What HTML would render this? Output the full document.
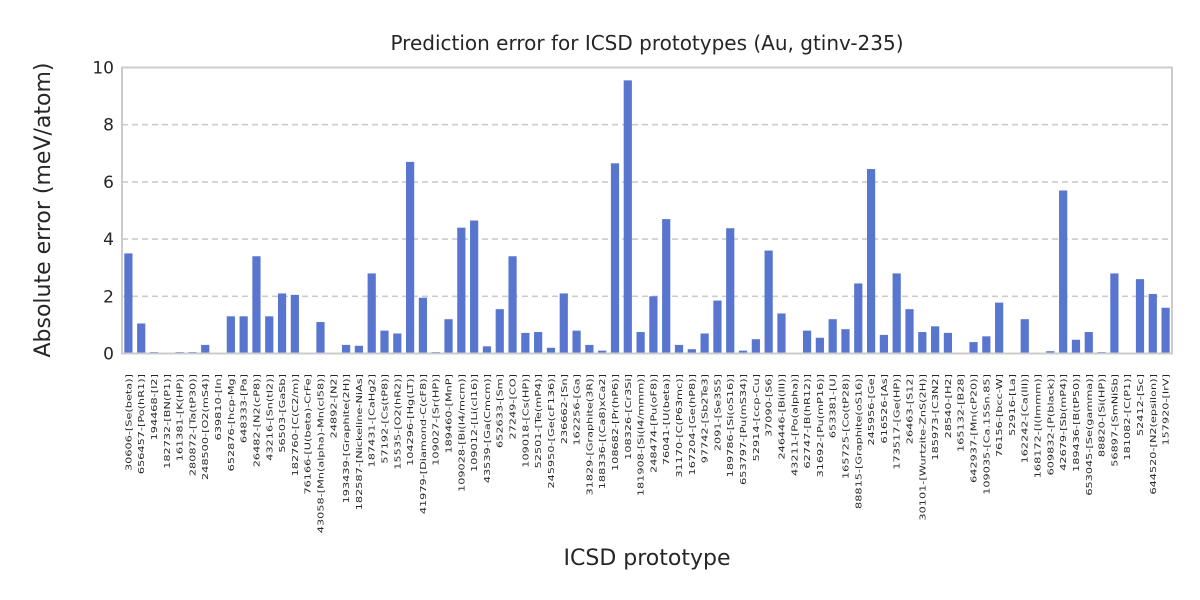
<!DOCTYPE html>
<html><head><meta charset="utf-8"><style>
html,body{margin:0;padding:0;background:#fff;width:1200px;height:600px;overflow:hidden}
svg text{font-family:"DejaVu Sans","Liberation Sans",sans-serif;fill:#262626}
</style></head><body>
<svg id="chart" width="1200" height="600">
<text x="647" y="50" text-anchor="middle" font-size="20">Prediction error for ICSD prototypes (Au, gtinv-235)</text>
<text transform="translate(50,210) rotate(-90)" text-anchor="middle" font-size="22">Absolute error (meV/atom)</text>
<text x="647" y="565" text-anchor="middle" font-size="22">ICSD prototype</text>
<g id="grid"></g><g id="bars"></g><g id="yticks"></g><g id="xticks"></g>
<rect x="122" y="67.5" width="1050" height="286" fill="none" stroke="#cccccc" stroke-width="2"/>
</svg>
<script>
const categories = ["30606-[Se(beta)]","656457-[Po(hR1)]","194468-[I2]","182732-[BN(P1)]","161381-[K(HP)]","280872-[Ta(tP30)]","248500-[O2(mS4)]","639810-[In]","652876-[hcp-Mg]","648333-[Pa]","26482-[N2(cP8)]","43216-[Sn(tI2)]","56503-[GaSb]","182760-[C(C2/m)]","76166-[U(beta)-CrFe]","43058-[Mn(alpha)-Mn(cI58)]","24892-[N2]","193439-[Graphite(2H)]","182587-[Nickeline-NiAs]","187431-[CaHg2]","57192-[Cs(tP8)]","15535-[O2(hR2)]","104296-[Hg(LT)]","41979-[Diamond-C(cF8)]","109027-[Sr(HP)]","189460-[MnP]","109028-[Bi(I4/mcm)]","109012-[Li(cI16)]","43539-[Ga(Cmcm)]","652633-[Sm]","27249-[CO]","109018-[Cs(HP)]","52501-[Te(mP4)]","245950-[Ge(cF136)]","236662-[Sn]","162256-[Ga]","31829-[Graphite(3R)]","188336-[(Ca8)xCa2]","108682-[Pr(hP6)]","108326-[Cr3Si]","181908-[Si(I4/mmm)]","248474-[Pu(oF8)]","76041-[U(beta)]","31170-[C(P63mc)]","167204-[Ge(hP8)]","97742-[Sb2Te3]","2091-[Se3S5]","189786-[Si(oS16)]","653797-[Pu(mS34)]","52914-[ccp-Cu]","37090-[S6]","246446-[Bi(III)]","43211-[Po(alpha)]","62747-[B(hR12)]","31692-[Pu(mP16)]","653381-[U]","165725-[Co(tP28)]","88815-[Graphite(oS16)]","245956-[Ge]","616526-[As]","173517-[Ge(HP)]","26463-[S12]","30101-[Wurtzite-ZnS(2H)]","185973-[C3N2]","28540-[H2]","165132-[B28]","642937-[Mn(cP20)]","109035-[Ca.15Sn.85]","76156-[bcc-W]","52916-[La]","162242-[Ca(III)]","168172-[I(Immm)]","609832-[P(black)]","42679-[Sb(mP4)]","189436-[B(tP50)]","653045-[Se(gamma)]","88820-[Si(HP)]","56897-[SmNiSb]","181082-[C(P1)]","52412-[Sc]","644520-[N2(epsilon)]","157920-[IrV]"];
const values = [3.5,1.05,0.05,0,0.05,0.05,0.3,0,1.3,1.3,3.4,1.3,2.1,2.05,0,1.1,0,0.3,0.27,2.8,0.8,0.7,6.7,1.95,0.05,1.2,4.4,4.65,0.25,1.55,3.4,0.72,0.75,0.2,2.1,0.8,0.3,0.1,6.65,9.55,0.75,2.0,4.7,0.3,0.15,0.7,1.85,4.38,0.1,0.5,3.6,1.4,0,0.8,0.55,1.2,0.85,2.45,6.45,0.65,2.8,1.55,0.75,0.95,0.72,0,0.4,0.6,1.78,0,1.2,0,0.08,5.7,0.48,0.75,0.05,2.8,0,2.6,2.08,1.6];
const yTicks = [0,2,4,6,8,10];
const NS="http://www.w3.org/2000/svg";
const X0=122,X1=1172,Y0=353.5,Y1=67.5,YMAX=10;
const step=(X1-X0)/categories.length;
const xPos=i=>X0+step*(i+0.5);
const yPos=v=>Y0-(v/YMAX)*(Y0-Y1);
function mk(tag,attrs,parent){const e=document.createElementNS(NS,tag);for(const k in attrs)e.setAttribute(k,attrs[k]);parent.appendChild(e);return e;}
const grid=document.getElementById('grid'),yt=document.getElementById('yticks'),bars=document.getElementById('bars'),xt=document.getElementById('xticks');
yTicks.forEach(t=>{
  if(t>0&&t<YMAX){const l=mk('line',{x1:X0,x2:X1,y1:yPos(t),y2:yPos(t),stroke:'#cccccc','stroke-width':1.6,'stroke-dasharray':'6,4'},grid);
  
  }
  const tx=mk('text',{x:X0-8,y:yPos(t)+6,'text-anchor':'end','font-size':17},yt);
  tx.textContent=t;
  
  
});
categories.forEach((c,i)=>{
  const w=step*0.64,v=values[i];
  const r=mk('rect',{x:xPos(i)-w/2,y:yPos(v),width:w,height:Math.max(0,Y0-yPos(v)),fill:'#5875d0'},bars);
  
  
  const t=mk('text',{transform:`translate(${xPos(i)+3},${374}) rotate(-90) scale(1.36,1)`,'text-anchor':'end','font-size':8.3},xt);
  t.textContent=c;
  
  
});
</script>
</body></html>
